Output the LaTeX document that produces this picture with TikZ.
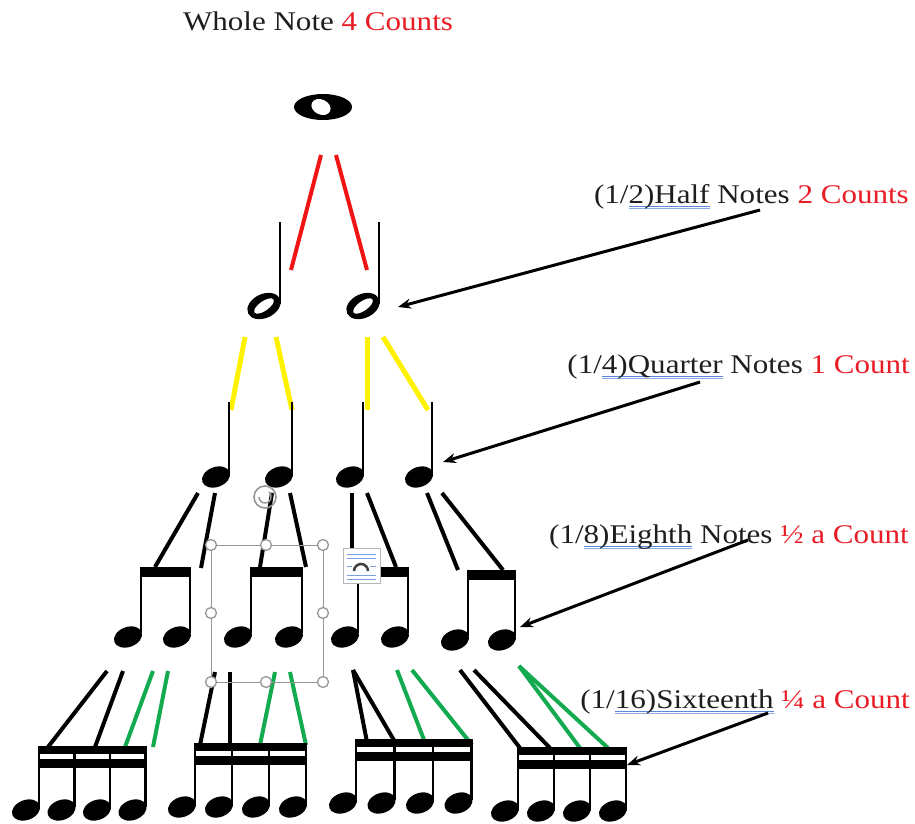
\documentclass[tikz,border=0pt]{standalone}
\usepackage{fontspec}
\setmainfont{Liberation Serif}[FakeStretch=1.15]
\usetikzlibrary{arrows.meta}

\definecolor{inkblack}{RGB}{30,30,30}
\definecolor{countred}{RGB}{232,28,36}
\definecolor{linkred}{RGB}{240,20,20}
\definecolor{linkyellow}{RGB}{255,242,0}
\definecolor{linkgreen}{RGB}{20,170,80}
\definecolor{spellblue}{RGB}{90,135,220}
\definecolor{handlegray}{RGB}{150,150,150}

% blue double underline under words
\newsavebox{\spellbox}
\newcommand{\spellmark}[1]{\sbox{\spellbox}{#1}%
  \rlap{\textcolor{spellblue}{\rule[-3.2pt]{\wd\spellbox}{0.7pt}}}%
  \rlap{\textcolor{spellblue!70}{\rule[-5.2pt]{\wd\spellbox}{0.7pt}}}%
  \usebox{\spellbox}}

% note parts
\newcommand{\notehead}[2]{\fill[rotate around={20:(#1,#2)}] (#1,#2) ellipse [x radius=14.5, y radius=10];}
\newcommand{\quarternote}[2]{% stem x, head y
  \notehead{#1-13}{#2}
  \draw[stem] (#1,#2-3) -- (#1,#2-75);}
\newcommand{\halfnote}[2]{% stem x, head y
  \fill[rotate around={25:(#1-16,#2)}] (#1-16,#2) ellipse [x radius=17.5, y radius=12];
  \fill[white,rotate around={35:(#1-16,#2)}] (#1-16,#2) ellipse [x radius=11.5, y radius=4.8];
  \draw[stem] (#1,#2-2) -- (#1,#2-84);}
\newcommand{\eighths}[3]{% left stem x, beam y, spacing
  \fill (#1-1.2,#2) rectangle (#1+#3+1.2,#2+10);
  \foreach \k in {0,1} {\draw[stem] (#1+\k*#3,#2) -- (#1+\k*#3,#2+66); \notehead{#1+\k*#3-13}{#2+70}}}
\newcommand{\sixteenths}[3]{% left stem x, beam y, spacing
  \fill (#1-1.2,#2) rectangle (#1+3*#3+1.2,#2+8);
  \fill (#1-1.2,#2+13) rectangle (#1+3*#3+1.2,#2+22);
  \foreach \k in {0,...,3} {\draw[stem] (#1+\k*#3,#2) -- (#1+\k*#3,#2+61); \notehead{#1+\k*#3-13}{#2+64}}}

\tikzset{
  lbl/.style={font=\fontsize{27}{32}\selectfont, text=inkblack, inner sep=0pt},
  stem/.style={line width=2.6pt},
  link/.style={line width=4pt},
  redlink/.style={link, linkred},
  yellowlink/.style={link, linkyellow, line width=5pt},
  blacklink/.style={link, black},
  greenlink/.style={link, linkgreen},
  pointer/.style={line width=3pt, -{Stealth[length=13pt,width=10pt]}},
  handle/.style={draw=handlegray, fill=white, line width=1.3pt},
}

\begin{document}
\begin{tikzpicture}[x=1pt,y=-1pt]
\useasboundingbox (0,0) rectangle (915,823);

% labels
\node[lbl, anchor=base] (wholelbl) at (318,30) {Whole Note \textcolor{countred}{4 Counts}};
\node[lbl, anchor=base east] (halflbl) at (909,203) {(1/\spellmark{2)Half} Notes \textcolor{countred}{2 Counts}};
\node[lbl, anchor=base east] (quarterlbl) at (910,373) {(1/\spellmark{4)Quarter} Notes \textcolor{countred}{1 Count}};
\node[lbl, anchor=base east] (eighthlbl) at (909,543) {(1/\spellmark{8)Eighth} Notes \textcolor{countred}{½ a Count}};
\node[lbl, anchor=base east] (sixteenthlbl) at (910,708) {(1/\spellmark{16)Sixteenth} \textcolor{countred}{¼ a Count}};

% whole note
\fill (323,107) ellipse [x radius=29, y radius=13];
\fill[white, rotate around={-25:(321,107)}] (321,107) ellipse [x radius=10, y radius=7.5];

% red
\draw[redlink] (321,155) -- (291,270);
\draw[redlink] (336,155) -- (367,270);

% half notes
\halfnote{280}{306}
\halfnote{379}{306}

% yellow
\draw[yellowlink] (245,337) -- (231,410);
\draw[yellowlink] (276,337) -- (292,410);
\draw[yellowlink] (367,337) -- (367,410);
\draw[yellowlink] (383,337) -- (428,410);

% quarter notes
\quarternote{229}{477}
\quarternote{292}{477}
\quarternote{363}{477}
\quarternote{432}{477}

% quarter to eighth
\draw[blacklink] (198,493) -- (155,567);
\draw[blacklink] (215,493) -- (201,568);
\draw[blacklink] (272,493) -- (260,567);
\draw[blacklink] (290,493) -- (306,567);
\draw[blacklink] (352,493) -- (352,567);
\draw[blacklink] (367,493) -- (396,567);
\draw[blacklink] (427,493) -- (458,570);
\draw[blacklink] (442,493) -- (503,570);

% eighth notes
\eighths{141}{567}{49}
\eighths{251}{567}{51}
\eighths{358}{567}{50}
\eighths{468}{570}{47}

% eighth to sixteenth
\draw[blacklink] (107,671) -- (48,747);
\draw[blacklink] (123,671) -- (95,747);
\draw[greenlink] (153,671) -- (125,747);
\draw[greenlink] (168,671) -- (153,747);
\draw[blacklink] (215,672) -- (200,745);
\draw[blacklink] (230,672) -- (230,745);
\draw[greenlink] (275,672) -- (260,745);
\draw[greenlink] (290,672) -- (306,745);
\draw[blacklink] (353,670) -- (367,742);
\draw[blacklink] (353,670) -- (395,742);
\draw[greenlink] (397,670) -- (426,745);
\draw[greenlink] (412,670) -- (472,745);
\draw[blacklink] (460,670) -- (520,748);
\draw[blacklink] (474,670) -- (550,748);
\draw[greenlink] (519,666) -- (580,748);
\draw[greenlink] (519,666) -- (608,748);

% sixteenth notes
\sixteenths{39}{746}{35.5}
\sixteenths{195}{743}{37}
\sixteenths{356}{739}{38.5}
\sixteenths{518}{747}{36}

% arrows
\coordinate (halftail) at (760,210);
\coordinate (halftip) at (398,307);
\coordinate (quartertail) at (700,382);
\coordinate (quartertip) at (443,462);
\coordinate (eighthtail) at (748,540);
\coordinate (eighthtip) at (520,627);
\coordinate (sixteenthtail) at (768,713);
\coordinate (sixteenthtip) at (627,765);
\draw[pointer] (halftail) -- (halftip);
\draw[pointer] (quartertail) -- (quartertip);
\draw[pointer] (eighthtail) -- (eighthtip);
\draw[pointer] (sixteenthtail) -- (sixteenthtip);

% selection frame
\draw[handlegray, line width=1pt] (211,545) rectangle (323,682);
\foreach \hx/\hy in {211/545,266/545,323/545,211/613,323/613,211/682,266/682,323/682}
  \draw[handle] (\hx,\hy) circle (5.5);
\draw[handlegray, line width=1.6pt] (265,497) circle (11);
\draw[handlegray, line width=1.4pt, -{Stealth[length=5pt]}] (259,497) arc [start angle=180, end angle=-60, radius=6];
\draw[fill=white, draw=handlegray!70, line width=1pt] (343,548) rectangle (380,583);
\foreach \ly in {554,558,575,579}
  \draw[spellblue!80, line width=1pt] (347,\ly) -- (376,\ly);
\draw[spellblue!80, line width=1pt] (347,566) -- (352,566) (370,566) -- (376,566);
\draw[darkgray, line width=2.5pt] (354,571) arc [start angle=180, end angle=360, radius=7];
\end{tikzpicture}
\end{document}
